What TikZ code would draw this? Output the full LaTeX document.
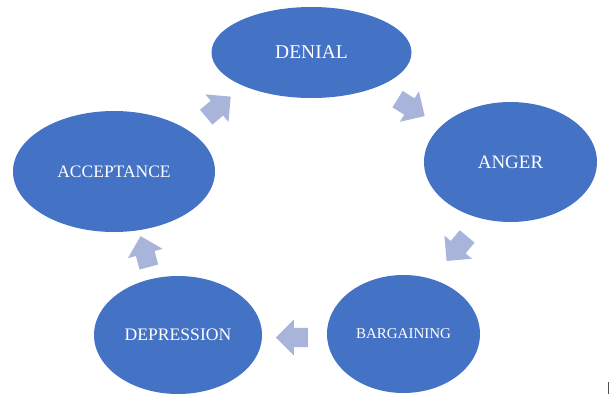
\documentclass[tikz,border=0pt]{standalone}
\usepackage{fontspec}
\setmainfont{Liberation Serif}
\usetikzlibrary{shapes.geometric, shapes.arrows, calc}
\definecolor{stage-blue}{HTML}{4472C4}
\definecolor{flow-lilac}{HTML}{A9B4DA}

\begin{document}
\begin{tikzpicture}[x=1pt, y=-1pt,
    stage/.style={ellipse, fill=stage-blue, text=white, inner sep=0pt},
    flow/.style={single arrow, fill=flow-lilac, minimum height=32pt, minimum width=36pt,
      single arrow head extend=7.5pt, inner xsep=0pt, inner ysep=8.5pt}]
      \useasboundingbox (0,0) rectangle (611,394);
      \node[stage, minimum width=200pt, minimum height=91pt, font=\fontsize{19.5}{20}\selectfont]
        (denial) at (311.5,52.5) {DENIAL};
      \node[stage, minimum width=173pt, minimum height=120pt, font=\fontsize{19}{20}\selectfont]
        (anger) at (510.5,162) {ANGER};
      \node[stage, minimum width=153pt, minimum height=118pt, font=\fontsize{15}{16}\selectfont]
        (bargaining) at (403.5,334) {BARGAINING};
      \node[stage, minimum width=168pt, minimum height=118pt, font=\fontsize{17.6}{18}\selectfont]
        (depression) at (178,335) {DEPRESSION};
      \node[stage, minimum width=202pt, minimum height=121pt, font=\fontsize{17.5}{18}\selectfont]
        (acceptance) at (114,171.5) {ACCEPTANCE};
      \node[flow, rotate=-32] (to-anger) at ($(denial)!0.48!(anger)$) {};
      \node[flow, rotate=230] (to-bargaining) at ($(anger)!0.5!(bargaining)+(3,-3)$) {};
      \node[flow, rotate=180] (to-depression) at ($(bargaining)!0.5!(depression)+(6,3)$) {};
      \node[flow, rotate=105] (to-acceptance) at ($(depression)!0.5!(acceptance)+(0,3)$) {};
      \node[flow, rotate=40] (to-denial) at ($(acceptance)!0.5!(denial)+(2,-2)$) {};
      \draw[black!70, line width=1pt] (608.5,382) -- (608.5,394);
    \end{tikzpicture}
\end{document}
